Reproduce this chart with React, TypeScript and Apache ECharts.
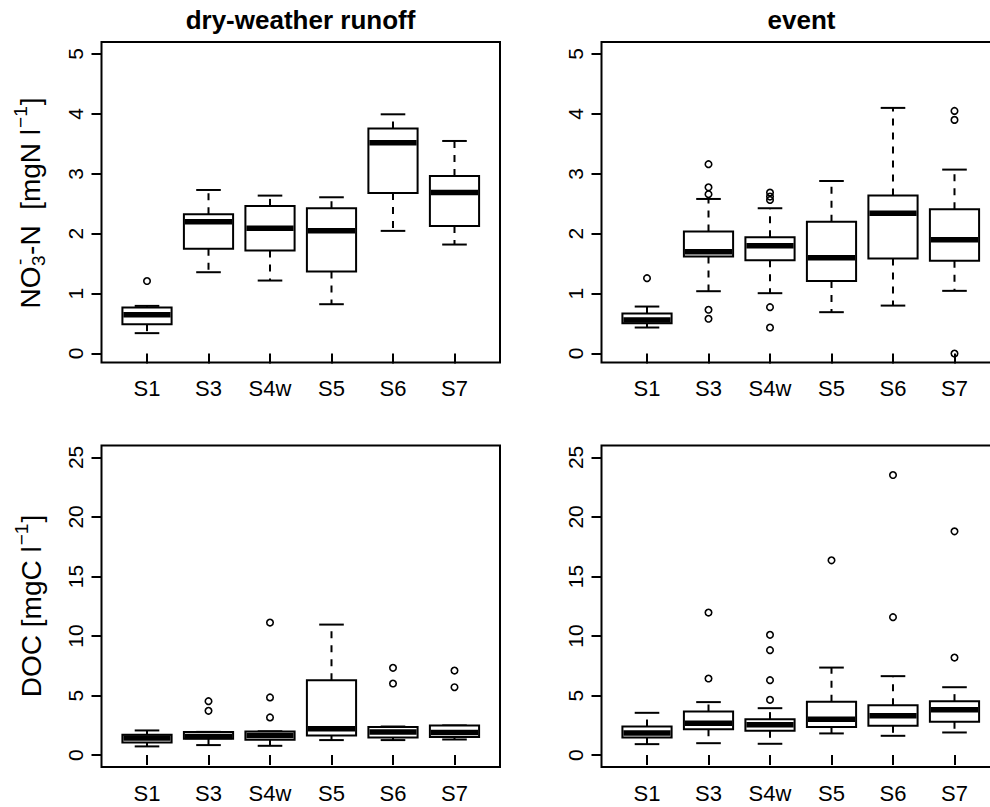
import React, { useEffect, useRef } from "react";
import * as echarts from "echarts";

// Sampling stations on the x axis
const stations = ["S1", "S3", "S4w", "S5", "S6", "S7"];

// Box statistics per station: [lower whisker, Q1, median, Q3, upper whisker]
const no3DryStats = [
  [0.34, 0.49, 0.645, 0.77, 0.795],
  [1.357, 1.75, 2.2, 2.325, 2.73],
  [1.218, 1.72, 2.09, 2.464, 2.636],
  [0.823, 1.368, 2.05, 2.425, 2.608],
  [2.047, 2.68, 3.52, 3.754, 3.993],
  [1.819, 2.13, 2.686, 2.964, 3.548],
];
const no3DryOutliers = [[1.21], [], [], [], [], []];

const no3EventStats = [
  [0.434, 0.506, 0.56, 0.667, 0.784],
  [1.04, 1.62, 1.7, 2.036, 2.58],
  [1.007, 1.557, 1.797, 1.94, 2.425],
  [0.69, 1.21, 1.6, 2.2, 2.88],
  [0.8, 1.585, 2.34, 2.636, 4.1],
  [1.046, 1.55, 1.897, 2.41, 3.07],
];
const no3EventOutliers = [
  [1.257],
  [3.16, 2.775, 2.66, 0.73, 0.58],
  [2.686, 2.62, 2.564, 0.773, 0.434],
  [],
  [],
  [4.05, 3.9, 0.0],
];

const docDryStats = [
  [0.73, 1.06, 1.43, 1.71, 2.07],
  [0.84, 1.37, 1.57, 1.93, 1.95],
  [0.78, 1.29, 1.65, 1.99, 2.0],
  [1.26, 1.65, 2.21, 6.29, 10.96],
  [1.26, 1.48, 1.93, 2.35, 2.4],
  [1.31, 1.51, 1.9, 2.49, 2.49],
];
const docDryOutliers = [[], [4.53, 3.72], [11.13, 4.84, 3.16], [], [7.33, 6.01], [7.1, 5.7]];

const docEventStats = [
  [0.92, 1.48, 1.85, 2.4, 3.55],
  [1.0, 2.18, 2.68, 3.66, 4.45],
  [0.95, 2.04, 2.54, 3.02, 3.94],
  [1.82, 2.35, 3.02, 4.47, 7.35],
  [1.62, 2.46, 3.3, 4.19, 6.63],
  [1.9, 2.8, 3.8, 4.53, 5.7],
];
const docEventOutliers = [[], [11.97, 6.43], [10.1, 8.81, 6.29, 4.64], [16.36], [23.52, 11.58], [18.79, 8.19]];

// Axis tick values
const no3Ticks = [0, 1, 2, 3, 4, 5];
const docTicks = [0, 5, 10, 15, 20, 25];
const stationTicks = [1, 2, 3, 4, 5, 6];

const FONT = '"Liberation Sans", Arial, Helvetica, sans-serif';
const INK = "#000";

function measure(text: string, size: number, weight = "normal") {
  const ctx = document.createElement("canvas").getContext("2d")!;
  ctx.font = `${weight} ${size}px ${FONT}`;
  return ctx.measureText(text).width;
}

type Piece = { text: string; size: number; dx: number; dy: number };

// Builds a y-axis title rotated to read bottom-to-top, centred at (cx, cy)
function verticalTitle(pieces: Piece[], total: number, cx: number, cy: number) {
  return {
    type: "group",
    x: cx,
    y: cy,
    rotation: Math.PI / 2,
    children: pieces.map((p) => ({
      type: "text",
      x: p.dx - total / 2,
      y: p.dy,
      style: {
        text: p.text,
        font: `${p.size}px ${FONT}`,
        fill: INK,
        align: "left",
        textAlign: "left",
        verticalAlign: "middle",
        textVerticalAlign: "middle",
      },
    })),
  };
}

function no3Title(cx: number, cy: number) {
  const big = 28;
  const small = 19;
  const pieces: Piece[] = [];
  let x = 0;
  pieces.push({ text: "NO", size: big, dx: x, dy: 0 });
  x += measure("NO", big) + 0.5;
  pieces.push({ text: "3", size: small, dx: x, dy: 8 });
  pieces.push({ text: "-", size: small, dx: x + 1, dy: -11 });
  x += Math.max(measure("3", small), measure("-", small)) + 0.5;
  const mid = "-N  [mgN l";
  pieces.push({ text: mid, size: big, dx: x, dy: 0 });
  x += measure(mid, big) + 1;
  pieces.push({ text: "\u22121", size: small, dx: x, dy: -10 });
  x += measure("\u22121", small) + 1;
  pieces.push({ text: "]", size: big, dx: x, dy: 0 });
  x += measure("]", big);
  return verticalTitle(pieces, x, cx, cy);
}

function docTitle(cx: number, cy: number) {
  const big = 28;
  const small = 19;
  const pieces: Piece[] = [];
  let x = 0;
  const first = "DOC [mgC l";
  pieces.push({ text: first, size: big, dx: x, dy: 0 });
  x += measure(first, big) + 1;
  pieces.push({ text: "\u22121", size: small, dx: x, dy: -10 });
  x += measure("\u22121", small) + 1;
  pieces.push({ text: "]", size: big, dx: x, dy: 0 });
  x += measure("]", big);
  return verticalTitle(pieces, x, cx, cy);
}

// Panel frames and value ranges
const panels = [
  { left: 101.5, top: 42, width: 398.5, height: 320.5, yMin: -0.15, yMax: 5.2, ticks: no3Ticks },
  { left: 601.5, top: 42, width: 398.5, height: 320.5, yMin: -0.15, yMax: 5.2, ticks: no3Ticks },
  { left: 101.5, top: 445.5, width: 398.5, height: 321.5, yMin: -1, yMax: 26, ticks: docTicks },
  { left: 601.5, top: 445.5, width: 398.5, height: 321.5, yMin: -1, yMax: 26, ticks: docTicks },
];
const panelStats = [no3DryStats, no3EventStats, docDryStats, docEventStats];
const panelOutliers = [no3DryOutliers, no3EventOutliers, docDryOutliers, docEventOutliers];

const BOX_WIDTH = 0.8;

function renderBox(params: any, api: any) {
  const x = api.value(0);
  const lo = api.coord([x, api.value(1)]);
  const q1 = api.coord([x, api.value(2)]);
  const med = api.coord([x, api.value(3)]);
  const q3 = api.coord([x, api.value(4)]);
  const hi = api.coord([x, api.value(5)]);
  const half = api.size([BOX_WIDTH, 0])[0] / 2;
  const cx = lo[0];
  const lineStyle = { stroke: INK, lineWidth: 2, fill: null };
  const dashed = { ...lineStyle, lineDash: [7, 7] };
  return {
    type: "group",
    children: [
      { type: "line", shape: { x1: cx, y1: q3[1], x2: cx, y2: hi[1] }, style: dashed },
      { type: "line", shape: { x1: cx, y1: q1[1], x2: cx, y2: lo[1] }, style: dashed },
      { type: "line", shape: { x1: cx - half / 2, y1: hi[1], x2: cx + half / 2, y2: hi[1] }, style: lineStyle },
      { type: "line", shape: { x1: cx - half / 2, y1: lo[1], x2: cx + half / 2, y2: lo[1] }, style: lineStyle },
      {
        type: "rect",
        shape: { x: cx - half, y: q3[1], width: half * 2, height: q1[1] - q3[1] },
        style: { fill: "#fff", stroke: INK, lineWidth: 2 },
      },
      {
        type: "line",
        shape: { x1: cx - half + 1, y1: med[1], x2: cx + half - 1, y2: med[1] },
        style: { stroke: INK, lineWidth: 5.5, lineCap: "butt" },
      },
    ],
  };
}

function buildOption() {
  const grid = panels.map((p) => ({
    left: p.left,
    top: p.top,
    width: p.width,
    height: p.height,
    show: true,
    borderColor: INK,
    borderWidth: 2,
    backgroundColor: "transparent",
    containLabel: false,
    outerBoundsMode: "none",
  }));

  const xAxis = panels.map((_, i) => ({
    type: "value",
    gridIndex: i,
    min: 0.26,
    max: 6.74,
    axisLine: { show: false },
    splitLine: { show: false },
    axisTick: { show: true, length: 10, customValues: stationTicks, lineStyle: { color: INK, width: 2 } },
    axisLabel: {
      customValues: stationTicks,
      formatter: (v: number) => stations[Math.round(v) - 1] ?? "",
      fontFamily: FONT,
      fontSize: 22,
      color: INK,
      margin: 15,
    },
  }));

  const yAxis = panels.map((p, i) => ({
    type: "value",
    gridIndex: i,
    min: p.yMin,
    max: p.yMax,
    axisLine: { show: false },
    splitLine: { show: false },
    axisTick: { show: true, length: 10, customValues: p.ticks, lineStyle: { color: INK, width: 2 } },
    axisLabel: {
      customValues: p.ticks,
      rotate: 90,
      fontFamily: FONT,
      fontSize: 21,
      color: INK,
      margin: 16,
    },
  }));

  const series: any[] = [];
  panelStats.forEach((stats, i) => {
    series.push({
      type: "custom",
      xAxisIndex: i,
      yAxisIndex: i,
      renderItem: renderBox,
      encode: { x: 0, y: [1, 2, 3, 4, 5] },
      data: stats.map((s, k) => [k + 1, ...s]),
      silent: true,
    });
    const pts: number[][] = [];
    panelOutliers[i].forEach((vals, k) => vals.forEach((v) => pts.push([k + 1, v])));
    series.push({
      type: "scatter",
      xAxisIndex: i,
      yAxisIndex: i,
      symbol: "circle",
      symbolSize: 6.5,
      itemStyle: { color: "rgba(0,0,0,0)", borderColor: INK, borderWidth: 1.6, opacity: 1 },
      data: pts,
      silent: true,
      z: 5,
    });
  });

  const titleStyle = (text: string, x: number) => ({
    type: "text",
    x,
    y: 20,
    style: {
      text,
      font: `bold 26px ${FONT}`,
      fill: INK,
      align: "center",
      textAlign: "center",
      verticalAlign: "middle",
      textVerticalAlign: "middle",
    },
  });

  return {
    animation: false,
    backgroundColor: "#fff",
    grid,
    xAxis,
    yAxis,
    series,
    graphic: [
      titleStyle("dry-weather runoff", 300.5),
      titleStyle("event", 801.5),
      no3Title(30, 203),
      docTitle(31, 606),
    ],
  };
}

export default function App() {
  const ref = useRef<HTMLDivElement>(null);
  useEffect(() => {
    if (!ref.current) return;
    const chart = echarts.init(ref.current, null, { renderer: "svg" });
    chart.setOption(buildOption() as any);
    return () => chart.dispose();
  }, []);
  return (
    <div
      ref={ref}
      style={{ position: "absolute", left: 0, top: 0, width: 990, height: 807, overflow: "hidden" }}
    />
  );
}
